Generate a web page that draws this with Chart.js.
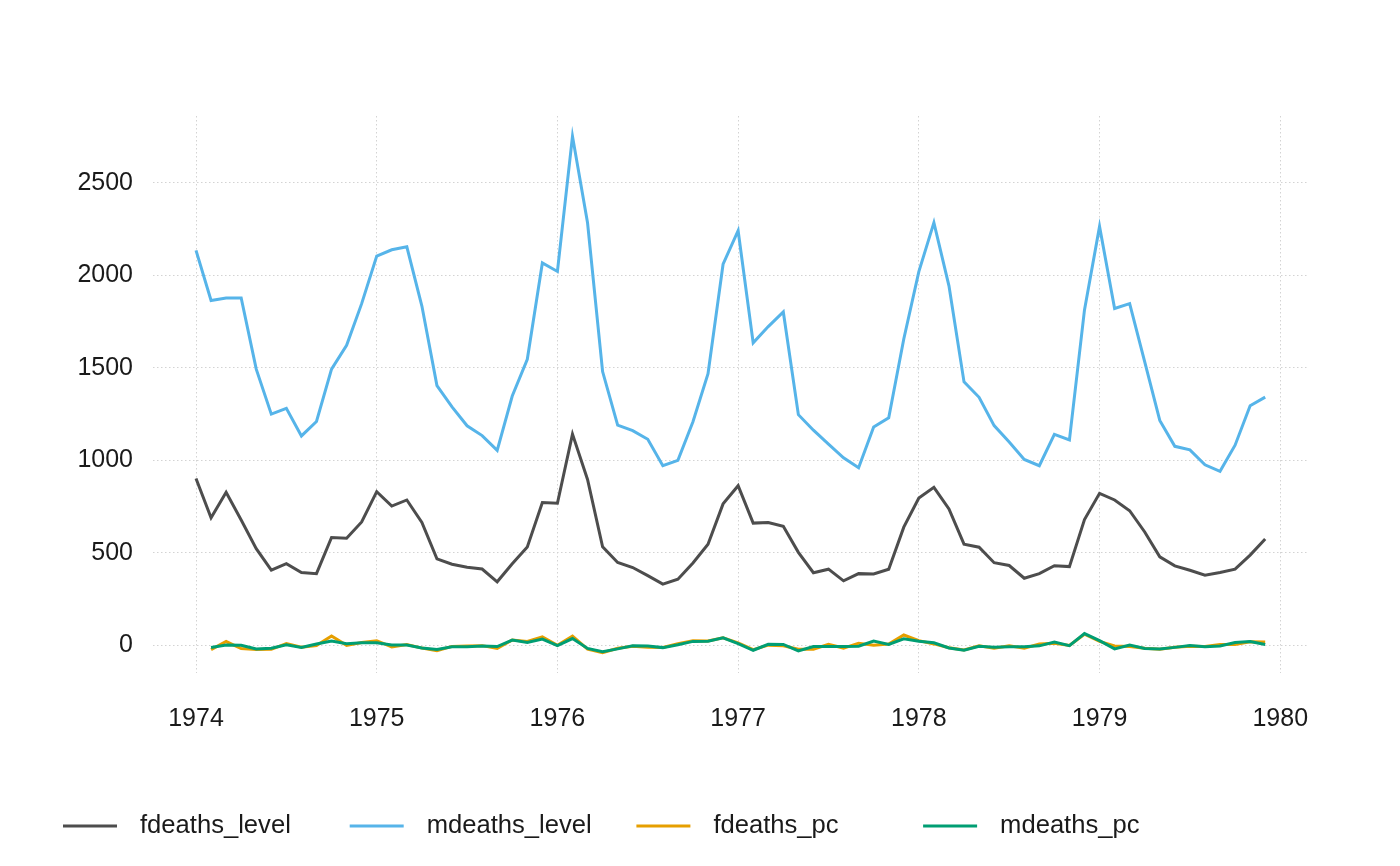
<!DOCTYPE html>
<html lang="en">
<head>
    <meta charset="UTF-8">
    <title>fdeaths / mdeaths</title>
    <script src="https://cdn.jsdelivr.net/npm/chart.js"></script>
    <style>
        body {
            margin: 0;
            padding: 0;
            background: #fff;
        }
        #wrap {
            width: 1400px;
            height: 866px;
        }
    </style>
</head>
<body>
    <div id="wrap"><canvas id="chart" width="1400" height="866"></canvas></div>

    <script>
        // monthly series, Jan 1974 .. Dec 1979
        const startYear = 1974;
        const fdeathsLevel = [
            901, 689, 827, 677, 522, 406, 441, 393, 387, 582, 578, 666,
            830, 752, 785, 664, 467, 438, 421, 412, 343, 440, 531, 771,
            767, 1141, 896, 532, 447, 420, 376, 330, 357, 445, 546, 764,
            862, 660, 663, 643, 502, 392, 411, 348, 387, 385, 411, 638,
            796, 853, 737, 546, 530, 446, 431, 362, 387, 430, 425, 679,
            821, 785, 727, 612, 478, 429, 405, 379, 393, 411, 487, 574
        ];
        const mdeathsLevel = [
            2134, 1863, 1877, 1877, 1492, 1249, 1280, 1131, 1209, 1492, 1621, 1846,
            2103, 2137, 2153, 1833, 1403, 1288, 1186, 1133, 1053, 1347, 1545, 2066,
            2020, 2750, 2283, 1479, 1189, 1160, 1113, 970, 999, 1208, 1467, 2059,
            2240, 1634, 1722, 1801, 1246, 1162, 1087, 1013, 959, 1179, 1229, 1655,
            2019, 2284, 1942, 1423, 1340, 1187, 1098, 1004, 970, 1140, 1110, 1812,
            2263, 1820, 1846, 1531, 1215, 1075, 1056, 975, 940, 1081, 1294, 1341
        ];
        // month-on-month % change, first month missing
        const fdeathsPc = [
            null, -23.5, 20.0, -18.1, -22.9, -22.2, 8.6, -10.9, -1.5, 50.4, -0.7, 15.2,
            24.6, -9.4, 4.4, -15.4, -29.7, -6.2, -3.9, -2.1, -16.7, 28.3, 20.7, 45.2,
            -0.5, 48.8, -21.5, -40.6, -16.0, -6.0, -10.5, -12.2, 8.2, 24.6, 22.7, 39.9,
            12.8, -23.4, 0.5, -3.0, -21.9, -21.9, 4.8, -15.3, 11.2, -0.5, 6.8, 55.2,
            24.8, 7.2, -13.6, -25.9, -2.9, -15.8, -3.4, -16.0, 6.9, 11.1, -1.2, 59.8,
            20.9, -4.4, -7.4, -15.8, -21.9, -10.3, -5.6, -6.4, 3.7, 4.6, 18.5, 17.9
        ];
        const mdeathsPc = [
            null, -12.7, 0.8, 0.0, -20.5, -16.3, 2.5, -11.6, 6.9, 23.4, 8.6, 13.9,
            13.9, 1.6, 0.7, -14.9, -23.5, -8.2, -7.9, -4.5, -7.1, 27.9, 14.7, 33.7,
            -2.2, 36.1, -17.0, -35.2, -19.6, -2.4, -4.1, -12.8, 3.0, 20.9, 21.4, 40.4,
            8.8, -27.1, 5.4, 4.6, -30.8, -6.7, -6.5, -6.8, -5.3, 22.9, 4.2, 34.7,
            22.0, 13.1, -15.0, -26.7, -5.8, -11.4, -7.5, -8.6, -3.4, 17.5, -2.6, 63.2,
            24.9, -19.6, 1.4, -17.1, -20.6, -11.5, -1.8, -7.7, -3.6, 15.0, 19.7, 3.6
        ];
        const xTicks = [1974, 1975, 1976, 1977, 1978, 1979, 1980];
        const yTicks = [0, 500, 1000, 1500, 2000, 2500];

        const seriesNames = ['fdeaths_level', 'mdeaths_level', 'fdeaths_pc', 'mdeaths_pc'];
        const seriesColors = ['#4D4D4D', '#56B4E9', '#E69F00', '#009E73'];
        const seriesValues = [fdeathsLevel, mdeathsLevel, fdeathsPc, mdeathsPc];

        const FONT = '"Liberation Sans", Arial, Helvetica, sans-serif';
        const gridColor = '#d3d3d3';

        function toPoints(values) {
            return values.map((v, i) => ({ x: startYear + i / 12, y: v }));
        }

        const datasets = seriesNames.map((name, i) => ({
            label: name,
            data: toPoints(seriesValues[i]),
            borderColor: seriesColors[i],
            backgroundColor: seriesColors[i],
            borderWidth: 3,
            pointRadius: 0,
            tension: 0,
            fill: false,
            spanGaps: false,
            order: seriesNames.length - i   // later series drawn on top
        }));

        // legend drawn along the bottom, equal spacing like the original
        const bottomLegend = {
            id: 'bottomLegend',
            afterDraw(chart) {
                const ctx = chart.ctx;
                const y = 826;
                ctx.save();
                ctx.font = '25.6px ' + FONT;
                ctx.textBaseline = 'middle';
                ctx.textAlign = 'left';
                seriesNames.forEach((name, i) => {
                    const x0 = 63 + i * 286.7;
                    ctx.strokeStyle = seriesColors[i];
                    ctx.lineWidth = 3;
                    ctx.beginPath();
                    ctx.moveTo(x0, y);
                    ctx.lineTo(x0 + 54, y);
                    ctx.stroke();
                    ctx.fillStyle = '#1a1a1a';
                    ctx.fillText(name, x0 + 77, y);
                });
                ctx.restore();
            }
        };

        new Chart(document.getElementById('chart'), {
            type: 'line',
            data: { datasets: datasets },
            options: {
                responsive: false,
                animation: false,
                devicePixelRatio: 1,
                layout: {
                    padding: { left: 0, right: 93, top: 116, bottom: 113 }
                },
                plugins: {
                    legend: { display: false },
                    tooltip: { enabled: false }
                },
                scales: {
                    x: {
                        type: 'linear',
                        min: 1973.762,
                        max: 1980.148,
                        afterBuildTicks(scale) {
                            scale.ticks = xTicks.map(v => ({ value: v }));
                        },
                        afterFit(scale) {
                            scale.height = 80;
                        },
                        grid: {
                            color: gridColor,
                            lineWidth: 1,
                            drawTicks: false
                        },
                        border: { display: false, dash: [1.5, 2.5] },
                        ticks: {
                            padding: 31,
                            color: '#1a1a1a',
                            font: { family: FONT, size: 25 },
                            maxRotation: 0,
                            callback: v => String(v)
                        }
                    },
                    y: {
                        type: 'linear',
                        min: -150,
                        max: 2860,
                        afterBuildTicks(scale) {
                            scale.ticks = yTicks.map(v => ({ value: v }));
                        },
                        afterFit(scale) {
                            scale.width = 153;
                        },
                        grid: {
                            color: gridColor,
                            lineWidth: 1,
                            drawTicks: false
                        },
                        border: { display: false, dash: [1.5, 2.5] },
                        ticks: {
                            padding: 20,
                            color: '#1a1a1a',
                            font: { family: FONT, size: 25 },
                            callback: v => String(v)
                        }
                    }
                }
            },
            plugins: [bottomLegend]
        });
    </script>
</body>
</html>
